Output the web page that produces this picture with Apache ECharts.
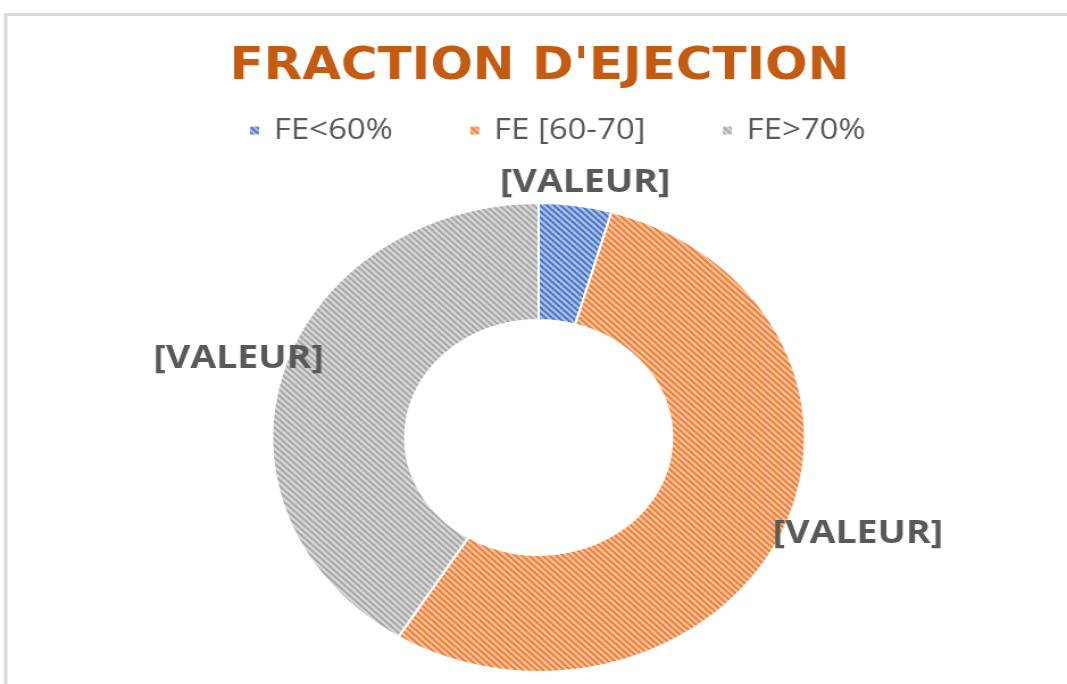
<!DOCTYPE html>
<html>
<head>
<meta charset="utf-8">
<script src="https://cdn.jsdelivr.net/npm/echarts@6/dist/echarts.min.js"></script>
<style>
  html, body { margin: 0; padding: 0; background: #fff; overflow: hidden; }
  /* the reference picture is stretched sideways, so the chart is drawn narrow and widened */
  #chart { width: 939px; height: 684px; transform: scaleX(1.13632); transform-origin: 0 0; }
</style>
</head>
<body>
<div id="chart"></div>
<script>
const TITLE = "FRACTION D'EJECTION";
const CATEGORIES = ['FE<60%', 'FE [60-70]', 'FE>70%'];
const VALUES = [3, 37, 28];
const LABEL_TEXT = '[VALEUR]';

const STRIPE = ['#4472C4', '#ED7D31', '#A5A5A5'];
const STRIPE_BG = ['#A9BFE6', '#F6C09B', '#D6D6D6'];

// hatch tile (diagonal stripes)
function hatch(line, bg) {
  const s = 6;
  const c = document.createElement('canvas');
  c.width = s; c.height = s;
  const ctx = c.getContext('2d');
  ctx.fillStyle = bg;
  ctx.fillRect(0, 0, s, s);
  ctx.strokeStyle = line;
  ctx.lineWidth = 1.9;
  ctx.beginPath();
  ctx.moveTo(-1, -1); ctx.lineTo(s + 1, s + 1);
  ctx.moveTo(-1, s - 1); ctx.lineTo(1, s + 1);
  ctx.moveTo(s - 1, -1); ctx.lineTo(s + 1, 1);
  ctx.stroke();
  return c;
}

const center = [474, 437.5];
// label centres, relative to the pie centre
const labelOffset = [[41, -255], [281, 96], [-264, -79]];

const chart = echarts.init(document.getElementById('chart'));

let option = {
  animation: false,
  graphic: [{
    type: 'rect',
    shape: { x: 5, y: 14.5, width: 1000, height: 700 },
    style: { fill: 'none', stroke: '#D9D9D9', lineWidth: 3 },
    silent: true
  }],
  title: {
    text: TITLE,
    left: 202,
    top: 46,
    padding: 0,
    textStyle: {
      color: '#C55A11',
      fontFamily: 'DejaVu Sans',
      fontWeight: 'bold',
      fontSize: 44
    }
  },
  legend: {
    data: CATEGORIES,
    left: 218,
    top: 116,
    padding: 0,
    itemWidth: 10,
    itemHeight: 10,
    itemGap: 66,
    textStyle: {
      color: '#595959',
      fontFamily: 'Open Sans',
      fontSize: 29,
      padding: [0, 0, 0, 7]
    }
  },
  series: [{
    type: 'pie',
    center: center,
    radius: [117.5, 234.5],
    startAngle: 90,
    clockwise: true,
    itemStyle: { borderColor: '#fff', borderWidth: 2 },
    emphasis: { disabled: true },
    label: {
      show: true,
      formatter: () => LABEL_TEXT,
      color: '#595959',
      fontFamily: 'Open Sans',
      fontWeight: 'bold',
      fontSize: 33
    },
    labelLine: { show: false },
    labelLayout: function (params) {
      const o = labelOffset[params.dataIndex];
      return { x: center[0] + o[0], y: center[1] + o[1], align: 'center', verticalAlign: 'middle' };
    },
    data: CATEGORIES.map((name, i) => ({
      name: name,
      value: VALUES[i],
      itemStyle: { color: { image: hatch(STRIPE[i], STRIPE_BG[i]), repeat: 'repeat' } }
    }))
  }]
};

chart.setOption(option);
</script>
</body>
</html>
